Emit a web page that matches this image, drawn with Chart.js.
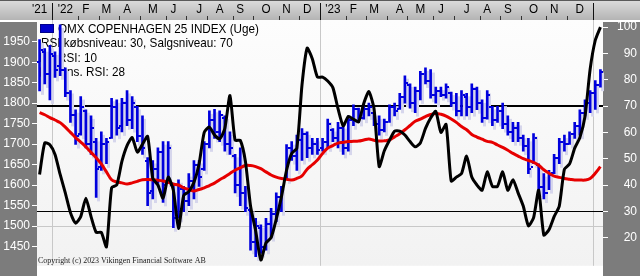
<!DOCTYPE html>
<html>
<head>
<meta charset="utf-8">
<script src="https://cdn.jsdelivr.net/npm/chart.js@4.4.0/dist/chart.umd.min.js"></script>
<style>
html, body { margin: 0; padding: 0; background: #fff; }
canvas { display: block; }
</style>
</head>
<body>
<canvas id="rsi-chart" width="640" height="276"></canvas>
<script>
// Weekly bars, from the week of 13 Dec 2021
var weeks = [];
for (var w = 0; w < 110; w++) {
    weeks.push(new Date(Date.UTC(2021, 11, 13) + w * 7 * 864e5).toISOString().slice(0, 10));
}

var high = [1955,1933,1941,1925,1991,1886,1831,1784,1816,1784, 1769,1714,1730,1714,1812,1808,1812,1831,1816,1792,
            1769,1667,1660,1691,1706,1706,1605,1613,1597,1628, 1660,1660,1706,1781,1785,1781,1769,1730,1675,1691,
            1597,1543,1519,1503,1519,1543,1581,1597,1699,1706, 1722,1738,1730,1714,1714,1714,1761,1738,1753,1745,
            1769,1796,1788,1792,1800,1777,1769,1761,1796,1800, 1824,1867,1847,1839,1878,1886,1882,1839,1839,1847,
            1827,1824,1831,1824,1847,1839,1808,1831,1792,1792, 1800,1769,1753,1753,1722,1714,1726,1652,1628,1636,
            1675,1714,1722,1730,1753,1784,1808,1831,1855,1882];
var low  = [1830,1847,1808,1863,1867,1816,1753,1699,1722,1691, 1675,1570,1636,1652,1714,1722,1730,1745,1738,1706,
            1675,1550,1566,1605,1558,1605,1496,1519,1535,1550, 1566,1597,1636,1691,1714,1706,1683,1675,1581,1550,
            1535,1441,1425,1433,1441,1472,1511,1535,1613,1660, 1636,1660,1667,1675,1675,1683,1691,1706,1691,1675,
            1683,1745,1753,1761,1769,1745,1722,1730,1753,1769, 1785,1800,1788,1777,1808,1847,1812,1800,1816,1812,
            1792,1769,1769,1769,1777,1784,1753,1761,1745,1753, 1738,1722,1706,1706,1683,1628,1652,1581,1566,1589,
            1628,1652,1683,1699,1714,1722,1769,1777,1785,1839];
var open = [1900,1925,1870,1915,1890,1880,1825,1770,1725,1780, 1700,1705,1645,1700,1715,1790,1745,1800,1760,1790,
            1720,1660,1585,1640,1680,1605,1600,1520,1590,1560, 1610,1650,1640,1700,1760,1730,1765,1700,1670,1600,
            1580,1540,1460,1495,1450,1505,1530,1570,1615,1690, 1670,1710,1725,1690,1700,1690,1705,1735,1715,1740,
            1690,1760,1785,1765,1785,1775,1750,1735,1755,1790, 1785,1815,1845,1800,1830,1870,1855,1820,1830,1820,
            1825,1800,1780,1815,1790,1835,1800,1765,1790,1760, 1780,1750,1730,1740,1715,1695,1645,1650,1595,1580,
            1630,1665,1705,1700,1725,1745,1775,1800,1825,1845];
var close = [1930,1870,1920,1880,1880,1825,1770,1720,1790,1700, 1740,1640,1700,1705,1790,1740,1800,1760,1800,1720,
             1690,1580,1640,1680,1600,1690,1520,1590,1560,1610, 1650,1620,1700,1760,1730,1770,1700,1690,1600,1580,
             1545,1460,1500,1450,1505,1530,1570,1590,1690,1670, 1710,1725,1690,1700,1685,1705,1750,1715,1740,1690,
             1760,1785,1765,1785,1790,1750,1735,1755,1790,1780, 1815,1850,1800,1830,1870,1855,1820,1830,1820,1840,
             1800,1780,1820,1790,1835,1800,1765,1820,1760,1780, 1750,1730,1740,1715,1695,1640,1715,1595,1580,1625,
             1665,1705,1700,1725,1745,1775,1800,1825,1845,1875];

var rsi10 = [44,56,55.3,51.6,44,37,29.5,25.5,28,35, 28,22,22,16.5,39,40,49,55,58,52.5,
             55.5,58.5,42.5,40,35,43,38,23.5,36,37.5, 41,48,60,62,59,57.5,61.4,74,57,57,
             49,32,22.5,11.5,18,20,27,35.5,45.6,52, 54,78,92,88,81,81,79.5,77,69,62.5,
             66,65,64,71,75.5,69,47,53,57,60.5, 60.5,59,56.5,54.5,56,61.5,65.5,68,60,63,
             41.5,43,44.3,51,43,40,38,45,39.5,39.5, 45,38,42,37,32,24.5,27.5,38,21,23,
             28,32,46,48,54,58,66,84,95,100];
var rsiAvg = [67.5,66.7,65.6,64.7,63.7,62,60,58,56.3,54.5, 52.4,50.4,48,45,42,41.2,40.8,40.4,40.8,41.4,
              42,42.1,42,41.8,41.5,41,40.3,40,38.9,38.3, 37.7,38.3,38.9,39.8,40.7,42,43.1,44.4,45.6,46.5,
              47.4,47.4,47,46.2,45,43.8,43,42.5,42.2,41.9, 42.5,43.5,46,47.7,49.5,52,54,55,55.9,56.2,
              56.5,56.6,56.7,57.1,57.5,57,56.7,56.8,57.1,58.3, 59.5,61,62.6,64.2,65,66,66.8,67.2,66.9,66.2,
              65.1,63.8,62.2,61,59.2,58.2,57.4,56.6,56.2,55.2, 54.3,53.2,52,51,50,49.3,48.6,47.5,45.8,44.5,
              43.4,42.9,42.5,42.2,41.9,41.9,41.9,42.5,44.5,47];

var buyLevel = 30, sellLevel = 70;
var priceTicks = [1450,1500,1550,1600,1650,1700,1750,1800,1850,1900,1950];
var rsiTicks = [20,30,40,50,60,70,80,90,100];

// top time band: label and the week it sits on
var monthLabels = ["'21","'22","F","M","A","M","J","J","A","S","O","N","D","'23","F","M","A","M","J","J","A","S","O","N","D"];
var monthAt = [0,5,9,13,17,22,26,31,35,39,44,48,52,57,61,65,70,74,78,83,87,91,96,100,105];
var monthStart = [8,12,16,20,25,29,33,38,42,47,51,60,64,68,72,77,81,86,90,94,99,103];
var yearStart = [3,55,108];

var sans = '"Liberation Sans", Arial, sans-serif';

// x pixel of the border between week i-1 and week i
function weekEdge(scale, i) {
    return (scale.getPixelForValue(i - 1) + scale.getPixelForValue(i)) / 2;
}

// the original uses a tall, narrow screen font: squeeze Liberation Sans a bit
function narrowText(ctx, text, x, y, align) {
    ctx.save();
    ctx.translate(x, y);
    ctx.scale(0.9, 1);
    ctx.textAlign = align;
    ctx.fillText(text, 0, 0);
    ctx.restore();
}

const backdrop = {
    id: 'backdrop',
    beforeDraw(chart) {
        const {ctx, width, height, chartArea: {left, right, top, bottom}} = chart;
        ctx.save();
        var g = ctx.createLinearGradient(0, top, 0, bottom);
        g.addColorStop(0, '#fdfdfd');
        g.addColorStop(1, '#f2f2f2');
        ctx.fillStyle = g;
        ctx.fillRect(left, top, right - left, bottom - top);

        ctx.fillStyle = '#7c7c7c';
        ctx.fillRect(0, top + 2, left, height - top);
        ctx.fillRect(right, top + 2, width - right, height - top);

        g = ctx.createLinearGradient(0, 0, 0, top);
        g.addColorStop(0, '#dcdcdc');
        g.addColorStop(1, '#b4b4b4');
        ctx.fillStyle = g;
        ctx.fillRect(0, 0, width, top);
        ctx.fillStyle = '#5a5a5a';
        ctx.fillRect(0, 0, width, 1);
        ctx.restore();
    },
    beforeDatasetsDraw(chart) {
        const {ctx, chartArea: {left, right, top, bottom}, scales: {x, y, rsi}} = chart;
        ctx.save();
        ctx.strokeStyle = '#c8c8c8';
        ctx.lineWidth = 1;
        ctx.beginPath();
        var gy = Math.round(y.getPixelForValue(1500)) + 0.5;
        ctx.moveTo(left, gy); ctx.lineTo(right, gy);
        yearStart.forEach(function (i) {
            var px = Math.round(weekEdge(x, i)) + 0.5;
            ctx.moveTo(px, top); ctx.lineTo(px, bottom);
        });
        ctx.stroke();

        // buy / sell levels
        ctx.fillStyle = '#000';
        ctx.fillRect(left, Math.round(rsi.getPixelForValue(sellLevel)) - 1, right - left, 2);
        ctx.fillRect(left, Math.round(rsi.getPixelForValue(buyLevel)), right - left, 1);

        // legend, sits under the bars
        var rows = [
            {text: chart.data.datasets[0].label, fill: '#0000cc', edge: '#00008a'},
            {text: 'RSI købsniveau: ' + buyLevel + ', Salgsniveau: ' + sellLevel},
            {text: chart.data.datasets[2].label, fill: '#111', edge: '#000'},
            {text: chart.data.datasets[1].label, fill: '#e84a4a', edge: '#b00000'}
        ];
        ctx.font = '13px ' + sans;
        ctx.textBaseline = 'middle';
        rows.forEach(function (r, k) {
            var cy = top + 9 + k * 14.5;
            if (r.fill) {
                ctx.fillStyle = r.fill;
                ctx.fillRect(left + 3, cy - 5, 14, 9);
                ctx.strokeStyle = r.edge;
                ctx.strokeRect(left + 3.5, cy - 4.5, 13, 8);
            }
            ctx.fillStyle = '#000';
            narrowText(ctx, r.text, r.fill ? left + 21 : left + 4, cy, 'left');
        });

        // soft shadow behind each bar
        ctx.fillStyle = '#d6d6ec';
        chart.getDatasetMeta(0).data.forEach(function (bar) {
            const p = bar.getProps(['x', 'y', 'base'], true);
            ctx.fillRect(Math.round(p.x) + 1, p.y + 3, 3, p.base - p.y + 1);
        });
        ctx.restore();
    },
    afterDatasetDraw(chart, args) {
        if (args.index !== 0) return;
        const {ctx, scales: {y}} = chart;
        ctx.save();
        ctx.fillStyle = '#0000dd';
        args.meta.data.forEach(function (bar, i) {
            var px = Math.round(bar.x);
            ctx.fillRect(px - 3, Math.round(y.getPixelForValue(open[i])) - 1, 2, 2);
            ctx.fillRect(px + 1, Math.round(y.getPixelForValue(close[i])) - 1, 2, 2);
        });
        ctx.restore();
    },
    afterDraw(chart) {
        const {ctx, chartArea: {left, top, bottom}, scales: {x}} = chart;
        ctx.save();
        ctx.font = '13px ' + sans;
        ctx.fillStyle = '#000';
        ctx.textBaseline = 'middle';
        monthLabels.forEach(function (t, k) {
            narrowText(ctx, t, x.getPixelForValue(monthAt[k]), 9, 'center');
        });
        ctx.fillStyle = '#333';
        monthStart.forEach(function (i) {
            ctx.fillRect(Math.round(weekEdge(x, i)), top - 4, 1, 4);
        });
        ctx.fillStyle = '#111';
        yearStart.forEach(function (i) {
            ctx.fillRect(Math.round(weekEdge(x, i)), 3, 1, top - 3);
        });

        ctx.font = '9px "Liberation Serif", "Times New Roman", serif';
        var tw = ctx.measureText('Copyright (c) 2023 Vikingen Financial Software AB').width;
        ctx.font = (9 * 168 / tw).toFixed(2) + 'px "Liberation Serif", "Times New Roman", serif';
        ctx.textAlign = 'left';
        ctx.textBaseline = 'alphabetic';
        ctx.fillStyle = '#222';
        ctx.fillText('Copyright (c) 2023 Vikingen Financial Software AB', left + 1, bottom - 3);
        ctx.restore();
    }
};

var axisTicks = {
    color: '#fff',
    font: {family: sans, size: 12},
    callback: function (v) { return String(v); }
};

new Chart(document.getElementById('rsi-chart'), {
    type: 'bar',
    data: {
        labels: weeks,
        datasets: [{
            label: 'OMX COPENHAGEN 25 INDEX (Uge)',
            data: weeks.map(function (w, i) { return [low[i], high[i]]; }),
            backgroundColor: '#0000dd',
            barThickness: 2,
            yAxisID: 'y',
            order: 3
        }, {
            type: 'line',
            label: 'Gns. RSI: 28',
            data: rsiAvg,
            borderColor: '#e60000',
            borderWidth: 3,
            pointRadius: 0,
            tension: 0.4,
            yAxisID: 'rsi',
            order: 2
        }, {
            type: 'line',
            label: 'RSI: 10',
            data: rsi10,
            borderColor: '#000',
            borderWidth: 3,
            pointRadius: 0,
            tension: 0.2,
            yAxisID: 'rsi',
            order: 1
        }]
    },
    options: {
        responsive: false,
        animation: false,
        devicePixelRatio: 1,
        layout: {padding: {top: 20, right: 3}},
        plugins: {legend: {display: false}, tooltip: {enabled: false}},
        scales: {
            x: {display: false, offset: true},
            y: {
                position: 'left',
                min: 1403, max: 2003,
                afterFit: function (s) { s.width = 37; },
                afterBuildTicks: function (s) { s.ticks = priceTicks.map(function (v) { return {value: v}; }); },
                grid: {drawOnChartArea: false, color: '#fff', tickLength: 5},
                border: {display: false},
                ticks: Object.assign({padding: 2}, axisTicks)
            },
            rsi: {
                position: 'right',
                min: 9.3, max: 102.7,
                afterFit: function (s) { s.width = 34; },
                afterBuildTicks: function (s) { s.ticks = rsiTicks.map(function (v) { return {value: v}; }); },
                grid: {drawOnChartArea: false, color: '#fff', tickLength: 5},
                border: {display: false},
                ticks: Object.assign({crossAlign: 'far'}, axisTicks)
            }
        }
    },
    plugins: [backdrop]
});
</script>
</body>
</html>
